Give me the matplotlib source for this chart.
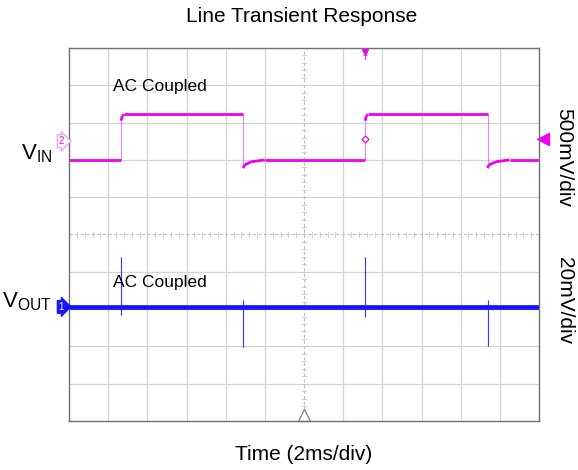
import numpy as np
import matplotlib
matplotlib.use("Agg")
from matplotlib import pyplot as plt
from matplotlib.collections import LineCollection

plt.rcParams["font.family"] = ["Liberation Sans", "DejaVu Sans"]
plt.rcParams["mathtext.fontset"] = "custom"
plt.rcParams["mathtext.rm"] = "Liberation Sans"
plt.rcParams["mathtext.it"] = "Liberation Sans"

# time in ms (2 ms/div, 12 div), level in screen divisions from the bottom (10 div)
vin_t = [0.0, 2.66, 2.66, 2.72, 2.80, 8.90, 8.90, 8.95, 9.30, 10.0,
         15.12, 15.12, 15.18, 15.26, 21.38, 21.38, 21.43, 21.8, 22.5, 24.0]
vin_v = [7.00, 7.00, 8.05, 8.18, 8.22, 8.22, 6.78, 6.86, 6.95, 7.00,
         7.00, 8.05, 8.18, 8.22, 8.22, 6.78, 6.86, 6.95, 7.00, 7.00]

vout_t = [0.0, 2.66, 2.66, 2.66, 2.66, 8.90, 8.90, 8.90, 8.90,
          15.12, 15.12, 15.12, 15.12, 21.38, 21.38, 21.38, 21.38, 24.0]
vout_v = [3.06, 3.06, 4.40, 2.84, 3.06, 3.06, 1.98, 3.24, 3.06,
          3.06, 4.40, 2.80, 3.06, 3.06, 2.00, 3.24, 3.06, 3.06]

pink = "#f000f0"
blue = "#1414ff"


def draw_trace(ax, t, v, color, lw_flat, lw_edge):
    pts = np.column_stack([t, v])
    segs = np.stack([pts[:-1], pts[1:]], axis=1)
    flat = np.diff(t) > 0
    ax.add_collection(LineCollection(segs[~flat], colors=color, linewidths=lw_edge,
                                     alpha=0.6, capstyle="butt"))
    ax.add_collection(LineCollection(segs[flat], colors=color, linewidths=lw_flat,
                                     capstyle="butt"))


fig = plt.figure(figsize=(5.78, 4.70), dpi=100)
ax = fig.add_axes([69 / 578, 49 / 470, 470 / 578, 373 / 470])
ax.set_xlim(0, 24)
ax.set_ylim(0, 10)

# scope graticule
for x in np.arange(2, 24, 2):
    if x != 12:
        ax.axvline(x, color="#d4d4d4", lw=0.9, zorder=0)
for y in range(1, 10):
    if y != 5:
        ax.axhline(y, color="#d4d4d4", lw=0.9, zorder=0)
ax.axvline(12, color="#c0c0c0", lw=0.8, ls=(0, (3, 2)), zorder=0)
ax.axhline(5, color="#c0c0c0", lw=0.8, ls=(0, (3, 2)), zorder=0)
for x in np.arange(0.4, 24, 0.4):
    ax.plot([x, x], [4.94, 5.06], color="#c8c8c8", lw=0.6, zorder=0)
for y in np.arange(0.2, 10, 0.2):
    ax.plot([11.92, 12.08], [y, y], color="#c8c8c8", lw=0.6, zorder=0)

ax.set_xticks([])
ax.set_yticks([])
for s in ax.spines.values():
    s.set_color("#707070")
    s.set_linewidth(1.0)

draw_trace(ax, vin_t, vin_v, pink, 2.0, 0.6)
draw_trace(ax, vout_t, vout_v, blue, 3.4, 0.8)

# markers
ax.plot(24.2, 7.56, marker="<", ms=8, color=pink, clip_on=False)
ax.plot(15.12, 7.56, marker="D", ms=3.5, mfc="white", mec=pink, mew=0.9)
ax.plot(15.12, 9.9, marker="v", ms=4, color=pink, clip_on=False)
ax.text(15.12, 9.72, "T", color=pink, fontsize=6, ha="center", va="center")
ax.plot(12, 0.15, marker="^", ms=9, mfc="white", mec="#808080", mew=0.9, clip_on=False)

ax.text(-0.25, 7.5, "2", color=pink, fontsize=7, ha="right", va="center",
        bbox=dict(boxstyle="rarrow,pad=0.15", fc="white", ec="#f090f0", lw=0.8))
ax.text(-0.25, 3.06, "1", color="white", fontsize=7, ha="right", va="center",
        bbox=dict(boxstyle="rarrow,pad=0.15", fc=blue, ec=blue, lw=0.8))

ax.text(2.25, 8.85, "AC Coupled", fontsize=12.5)
ax.text(2.25, 3.58, "AC Coupled", fontsize=12.5)

fig.text(52 / 578, 1 - 159 / 470, r"$\mathrm{V_{IN}}$", fontsize=16, ha="right", va="baseline")
fig.text(52 / 578, 1 - 307 / 470, r"$\mathrm{V_{OUT}}$", fontsize=16, ha="right", va="baseline")

fig.text(564 / 578, 1 - 157 / 470, "500mV/div", fontsize=15, rotation=-90, ha="center", va="center")
fig.text(564 / 578, 1 - 301 / 470, "20mV/div", fontsize=15, rotation=-90, ha="center", va="center")

fig.text(302 / 578, 1 - 17 / 470, "Line Transient Response", fontsize=15, ha="center", va="center")
fig.text(304 / 578, 1 - 455 / 470, "Time (2ms/div)", fontsize=15, ha="center", va="center")

fig.savefig("out.png", dpi=100)
